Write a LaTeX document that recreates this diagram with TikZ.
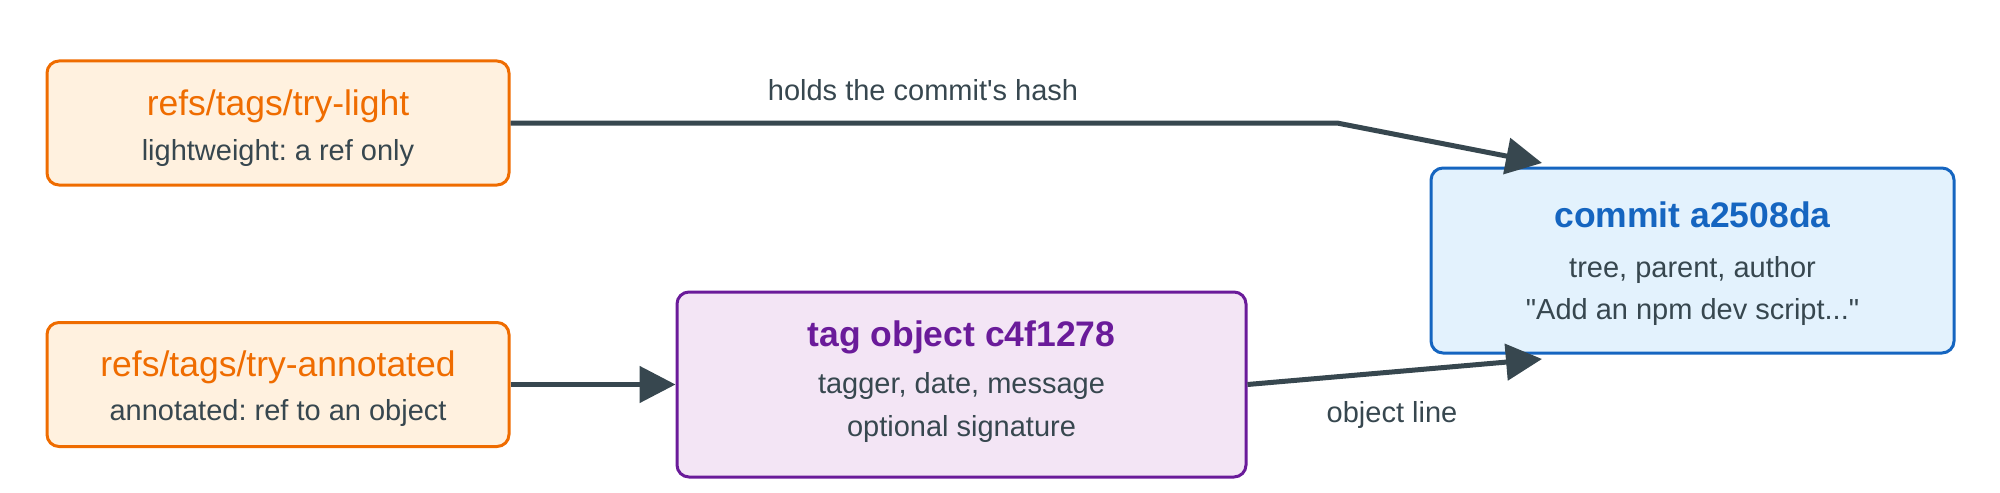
\documentclass[tikz,border=0pt]{standalone}
\usepackage{fontspec}
\setmainfont{Liberation Sans}[Ligatures=TeXOff]
\usetikzlibrary{arrows.meta,calc}
\definecolor{orangeD}{HTML}{EF6C00}
\definecolor{orangeL}{HTML}{FFF1DF}
\definecolor{purpleD}{HTML}{6A1B9A}
\definecolor{purpleL}{HTML}{F3E5F5}
\definecolor{blueD}{HTML}{1565C0}
\definecolor{blueL}{HTML}{E3F2FD}
\definecolor{ink}{HTML}{37474F}
\newcommand{\ttlfont}{\fontsize{17.75pt}{22.5pt}\selectfont}
\newcommand{\subtxt}{\fontsize{14.5pt}{21pt}\selectfont}
\frenchspacing
\begin{document}
\begin{tikzpicture}[x=0.5pt,y=-0.5pt,
  box/.style={draw, rounded corners=6pt, line width=1.5pt, inner sep=0pt},
  refbox/.style={box, draw=orangeD, fill=orangeL, minimum width=231pt, minimum height=62pt},
  tagbox/.style={box, draw=purpleD, fill=purpleL, minimum width=284.5pt, minimum height=92.5pt},
  combox/.style={box, draw=blueD, fill=blueL, minimum width=261.5pt, minimum height=92.5pt},
  reftitle/.style={anchor=base, inner sep=0pt, text=orangeD, font=\ttlfont},
  tagtitle/.style={anchor=base, inner sep=0pt, text=purpleD, font=\ttlfont\bfseries},
  comtitle/.style={anchor=base, inner sep=0pt, text=blueD, font=\ttlfont\bfseries},
  body/.style={anchor=base, inner sep=0pt, text=ink, font=\subtxt},
  conn/.style={draw=ink, line width=2.5pt, -{Triangle[length=18pt,width=18pt]}},
  lbl/.style={anchor=base, text=ink, font=\subtxt, inner sep=0pt}]
\useasboundingbox (0,0) rectangle (2000,492);

\node[refbox] (light) at (278,123) {};
\node[reftitle] (lightA) at (278,115) {refs/tags/try-light};
\node[body] (lightB) at (278,160) {lightweight: a ref only};

\node[refbox] (annot) at (278,384.5) {};
\node[reftitle] (annotA) at (278,376) {refs/tags/try-annotated};
\node[body] (annotB) at (278,420) {annotated: ref to an object};

\node[tagbox] (tag) at (961.5,384.5) {};
\node[tagtitle] (tagA) at (961.5,346) {tag object c4f1278};
\node[body] (tagB) at (961.5,393) {tagger, date, message};
\node[body] (tagC) at (961.5,436) {optional signature};

\node[combox] (commit) at (1692.5,260.5) {};
\node[comtitle] (comA) at (1692.5,227) {commit a2508da};
\node[body] (comB) at (1692.5,277) {tree, parent, author};
\node[body] (comC) at (1692.5,319.5) {"Add an npm dev script..."};

\coordinate (bend1) at (1337,123);
\coordinate (tip1) at (1542,163);
\coordinate (tip3) at (1542,359);

\draw[conn] (light.east) -- (bend1) -- (tip1);
\draw[conn] (annot.east) -- (tag.west);
\draw[conn] (tag.east) -- (tip3);

\node[lbl] (hashlbl) at (923,101) {holds the commit's hash};
\node[lbl] (objlbl) at (1392,422) {object line};
\end{tikzpicture}
\end{document}
